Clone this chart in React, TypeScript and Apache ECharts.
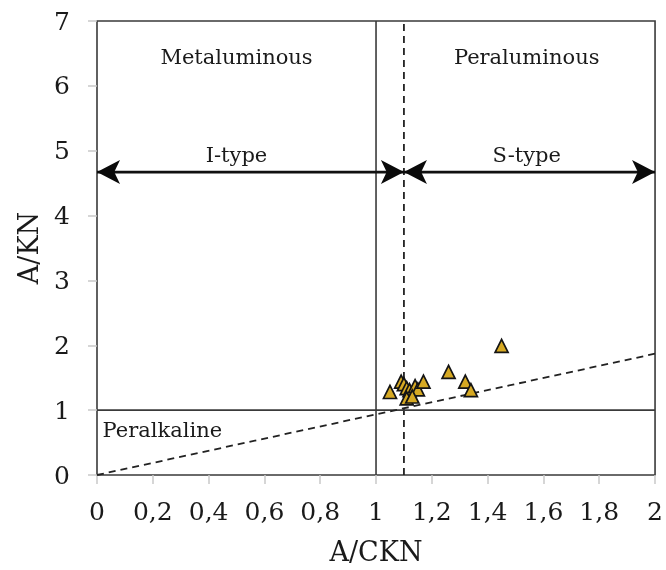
import React, { useEffect, useRef } from "react";
import * as echarts from "echarts";

// Sample points (A/CKN, A/KN)
const sampleX = [1.05, 1.09, 1.10, 1.11, 1.12, 1.14, 1.15, 1.17, 1.26, 1.32, 1.34, 1.11, 1.13, 1.45];
const sampleY = [1.28, 1.44, 1.40, 1.34, 1.31, 1.37, 1.32, 1.44, 1.59, 1.44, 1.31, 1.18, 1.21, 1.99];

// Boundary lines
const metaluminousLimitX = 1;
const iTypeLimitX = 1.1;
const peralkalineLimitY = 1;
const diagonalEnd = [2, 1.87];

// Arrows
const arrowY = 4.67;
const arrowSpans = [
  [0, 1.1],
  [1.1, 2],
];

// Region labels
const labelNames = ["Metaluminous", "Peraluminous", "I-type", "S-type", "Peralkaline"];
const labelX = [0.5, 1.54, 0.5, 1.54, 0.02];
const labelY = [6.44, 6.44, 4.93, 4.93, 0.69];
const labelAlign = ["center", "center", "center", "center", "left"];

const xMin = 0, xMax = 2, xStep = 0.2;
const yMin = 0, yMax = 7, yStep = 1;

const SERIF = "'DejaVu Serif', 'Liberation Serif', serif";
const DARK = "#3a3a3a";

export default function App() {
  const ref = useRef<HTMLDivElement>(null);
  useEffect(() => {
    if (!ref.current) return;
    const chart = echarts.init(ref.current, undefined, { renderer: "svg" });

    const lineSeries = (data: number[][], dashed: boolean, color: string) => ({
      type: "line",
      data,
      symbol: "none",
      silent: true,
      lineStyle: { color, width: dashed ? 1.8 : 1.6, type: dashed ? [7, 5] : "solid" },
      z: 2,
    });

    const arrowShafts = arrowSpans.map((s) =>
      lineSeries([[s[0], arrowY], [s[1], arrowY]], false, "#111")
    ).map((o) => ({ ...o, lineStyle: { ...o.lineStyle, width: 2.6 } }));

    const arrowHeads: any[] = [];
    arrowSpans.forEach((s) => {
      arrowHeads.push({ value: [s[0], arrowY], symbolRotate: 90 });
      arrowHeads.push({ value: [s[1], arrowY], symbolRotate: -90 });
    });

    const option: any = {
      animation: false,
      grid: {
        left: 97,
        right: 10,
        top: 21,
        bottom: 95,
        show: true,
        borderColor: DARK,
        borderWidth: 1.6,
        backgroundColor: "transparent",
      },
      xAxis: {
        type: "value",
        min: xMin,
        max: xMax,
        interval: xStep,
        name: "A/CKN",
        nameLocation: "middle",
        nameGap: 63,
        nameTextStyle: { fontFamily: SERIF, fontSize: 27, color: "#1a1a1a" },
        axisLine: { show: false },
        axisTick: { show: true, length: 9, lineStyle: { color: "#c8c8c8", width: 1.5 } },
        splitLine: { show: false },
        axisLabel: {
          margin: 24,
          fontFamily: SERIF,
          fontSize: 25,
          color: "#1a1a1a",
          formatter: (v: number) => String(Math.round(v * 10) / 10).replace(".", ","),
        },
      },
      yAxis: {
        type: "value",
        min: yMin,
        max: yMax,
        interval: yStep,
        name: "A/KN",
        nameLocation: "middle",
        nameGap: 55,
        nameTextStyle: { fontFamily: SERIF, fontSize: 27, color: "#1a1a1a" },
        axisLine: { show: false },
        axisTick: { show: true, length: 9, lineStyle: { color: "#c8c8c8", width: 1.5 } },
        splitLine: { show: false },
        axisLabel: { margin: 27, fontFamily: SERIF, fontSize: 25, color: "#1a1a1a" },
      },
      series: [
        lineSeries([[metaluminousLimitX, yMin], [metaluminousLimitX, yMax]], false, DARK),
        lineSeries([[iTypeLimitX, yMin], [iTypeLimitX, yMax]], true, "#222"),
        lineSeries([[xMin, peralkalineLimitY], [xMax, peralkalineLimitY]], false, DARK),
        lineSeries([[0, 0], diagonalEnd], true, "#222"),
        ...arrowShafts,
        {
          type: "scatter",
          silent: true,
          symbol: "arrow",
          symbolSize: [18, 23],
          itemStyle: { color: "#0a0a0a", opacity: 1 },
          data: arrowHeads,
          z: 4,
        },
        {
          type: "scatter",
          silent: true,
          symbol: "triangle",
          symbolSize: 13,
          itemStyle: { color: "#d6a923", borderColor: "#141414", borderWidth: 1.7, opacity: 1 },
          data: sampleX.map((x, i) => [x, sampleY[i]]),
          z: 5,
        },
        {
          type: "scatter",
          silent: true,
          symbolSize: 0,
          itemStyle: { opacity: 1 },
          data: labelNames.map((n, i) => ({
            value: [labelX[i], labelY[i]],
            name: n,
            label: {
              show: true,
              position: "inside",
              formatter: n,
              align: labelAlign[i],
              verticalAlign: "middle",
              fontFamily: SERIF,
              fontSize: 21,
              color: "#1a1a1a",
            },
          })),
          z: 6,
        },
      ],
    };
    chart.setOption(option);
    return () => chart.dispose();
  }, []);
  return <div ref={ref} style={{ position: "fixed", left: 0, top: 0, width: 666, height: 570 }} />;
}
